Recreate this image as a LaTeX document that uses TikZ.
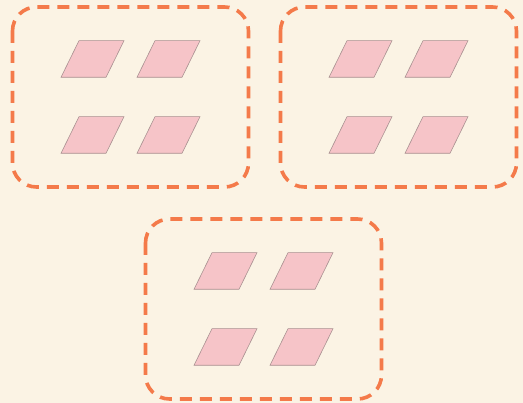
\documentclass[tikz,border=0pt]{standalone}
\definecolor{bg}{HTML}{FBF3E4}
\definecolor{dashc}{HTML}{F47A4A}
\definecolor{pinkf}{HTML}{F6C4C8}
\definecolor{pinkd}{HTML}{A89090}
\tikzset{
  groupbox/.style={draw=dashc, line width=3.6pt, dash pattern=on 12pt off 8pt, rounded corners=24pt},
  parastyle/.style={draw=pinkd, fill=pinkf, line width=0.6pt},
  para/.pic={\draw[parastyle] (-13.5,-18.3) -- (31.5,-18.3) -- (13.5,18.3) -- (-31.5,18.3) -- cycle;},
  quad/.pic={
    \pic at (-38,-38) {para};
    \pic at (38,-38) {para};
    \pic at (-38,38) {para};
    \pic at (38,38) {para};
    \draw[groupbox] (-118,-90) rectangle (118,90);
  }
}
\begin{document}
\begin{tikzpicture}[x=1pt,y=-1pt]
\fill[bg] (0,0) rectangle (523,403);
\useasboundingbox (0,0) rectangle (523,403);
\pic at (130.5,97) {quad};
\pic at (398.5,97) {quad};
\pic at (263.5,309) {quad};
\end{tikzpicture}
\end{document}
